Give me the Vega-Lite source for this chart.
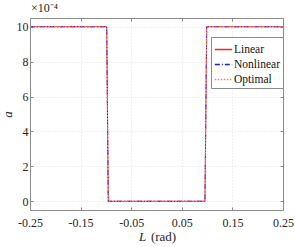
{
  "$schema": "https://vega.github.io/schema/vega-lite/v6.json",
  "autosize": {"type": "none"},
  "padding": {"left": 30, "top": 18, "right": 12, "bottom": 37},
  "width": 253,
  "height": 192,
  "background": "white",
  "title": {"text": "×10⁻⁴", "anchor": "start", "frame": "group", "font": "Liberation Serif", "fontSize": 12, "fontWeight": "normal", "color": "#262626", "offset": 3, "dx": 1},
  "data": {"values": [
    {"L": -0.25, "a": 10, "series": "Linear"},
    {"L": -0.0984, "a": 10, "series": "Linear"},
    {"L": -0.0953, "a": 0, "series": "Linear"},
    {"L": 0.0958, "a": 0, "series": "Linear"},
    {"L": 0.0992, "a": 10, "series": "Linear"},
    {"L": 0.25, "a": 10, "series": "Linear"},
    {"L": -0.25, "a": 10, "series": "Nonlinear"},
    {"L": -0.0984, "a": 10, "series": "Nonlinear"},
    {"L": -0.0953, "a": 0, "series": "Nonlinear"},
    {"L": 0.0958, "a": 0, "series": "Nonlinear"},
    {"L": 0.0992, "a": 10, "series": "Nonlinear"},
    {"L": 0.25, "a": 10, "series": "Nonlinear"},
    {"L": -0.25, "a": 10, "series": "Optimal"},
    {"L": -0.0984, "a": 10, "series": "Optimal"},
    {"L": -0.0953, "a": 0, "series": "Optimal"},
    {"L": 0.0958, "a": 0, "series": "Optimal"},
    {"L": 0.0992, "a": 10, "series": "Optimal"},
    {"L": 0.25, "a": 10, "series": "Optimal"}
  ]},
  "layer": [
    {
      "mark": {"type": "line", "strokeWidth": 1, "clip": true},
      "encoding": {
        "x": {"field": "L", "type": "quantitative", "scale": {"domain": [-0.25, 0.25], "nice": false, "zero": false},
          "axis": {"orient": "bottom", "values": [-0.25, -0.15, -0.05, 0.05, 0.15, 0.25], "labelExpr": "replace(format(datum.value, '.2f'), '\u2212', '-')", "labelFlush": false, "labelOverlap": false, "labelBound": false, "labelPadding": 10, "title": "(rad)", "titleX": 133, "titleY": 30, "titleBaseline": "alphabetic", "titleFontStyle": "normal"}},
        "y": {"field": "a", "type": "quantitative", "scale": {"domain": [-0.5, 10.5], "nice": false, "zero": false},
          "axis": {"orient": "left", "values": [0, 2, 4, 6, 8, 10], "labelFlush": false, "labelOverlap": false, "labelPadding": 5, "title": "a", "titleFontStyle": "italic", "titlePadding": 2}},
        "color": {"field": "series", "type": "nominal", "scale": {"domain": ["Linear", "Nonlinear", "Optimal"], "range": ["#ff2020", "#1a1aff", "#ff7f40"]},
          "legend": {"title": null}},
        "strokeDash": {"field": "series", "type": "nominal", "scale": {"domain": ["Linear", "Nonlinear", "Optimal"], "range": [[1, 0], [5, 2, 1, 2], [1.5, 1.5]]},
          "legend": {"title": null}},
        "order": {"field": "L", "type": "quantitative"}
      }
    },
    {
      "mark": {"type": "line", "opacity": 0},
      "encoding": {
        "x": {"field": "L", "type": "quantitative", "axis": {"orient": "top", "values": [-0.25, -0.15, -0.05, 0.05, 0.15, 0.25], "labels": false, "grid": false, "title": null}},
        "y": {"field": "a", "type": "quantitative", "axis": {"orient": "right", "values": [0, 2, 4, 6, 8, 10], "labels": false, "grid": false, "title": null}}
      }
    },
    {
      "mark": {"type": "line", "opacity": 0},
      "encoding": {
        "x": {"field": "L", "type": "quantitative", "axis": {"orient": "bottom", "labels": false, "ticks": false, "domain": false, "grid": false, "title": "L", "titleFontStyle": "italic", "titleX": 112, "titleY": 30, "titleBaseline": "alphabetic"}},
        "y": {"field": "a", "type": "quantitative", "axis": null}
      }
    }
  ],
  "resolve": {"axis": {"x": "independent", "y": "independent"}},
  "config": {
    "view": {"stroke": null},
    "font": "Liberation Serif",
    "axis": {
      "labelFont": "Liberation Serif", "labelFontSize": 12, "labelColor": "#262626",
      "titleFont": "Liberation Serif", "titleFontSize": 13, "titleFontWeight": "normal", "titleColor": "#262626",
      "domainColor": "#8a8a8a", "tickColor": "#8a8a8a", "tickSize": -3,
      "gridColor": "#d9d9d9", "gridDash": [1, 2], "gridWidth": 0.8
    },
    "legend": {
      "orient": "none", "legendX": 181, "legendY": 19,
      "fillColor": "white", "strokeColor": "#8a8a8a", "padding": 3,
      "labelFont": "Liberation Serif", "labelFontSize": 11.5, "labelColor": "#111",
      "symbolType": "stroke", "symbolSize": 300, "symbolStrokeWidth": 1.5, "rowPadding": 0, "labelOffset": 1
    }
  }
}
